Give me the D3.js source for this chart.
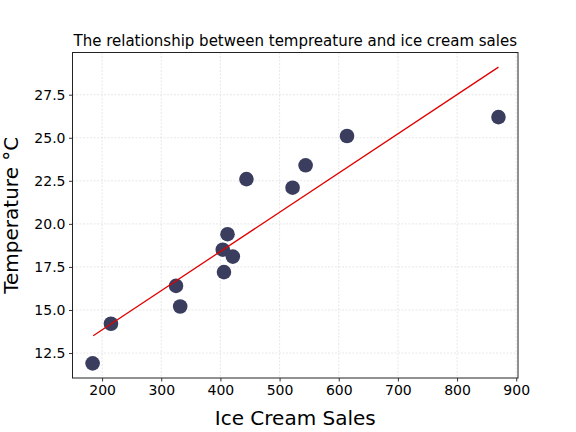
<!DOCTYPE html>
<html>
<head>
<meta charset="utf-8">
<script src="https://cdn.jsdelivr.net/npm/d3@7"></script>
<style>
  body { margin: 0; background: #fff; }
  text { font-family: 'DejaVu Sans', sans-serif; }
</style>
</head>
<body>
<svg id="chart" width="576" height="432"></svg>
<script>
// ice cream sales vs temperature
const sales = [184, 215, 325, 332, 406, 404, 412, 421, 444, 522, 544, 614, 870];
const temps = [11.9, 14.2, 16.4, 15.2, 17.2, 18.5, 19.4, 18.1, 22.6, 22.1, 23.4, 25.1, 26.2];

// fitted line end points
const fitX = [185, 870];
const fitY = [13.5, 29.1];

const xTicks = [200, 300, 400, 500, 600, 700, 800, 900];
const yTicks = [12.5, 15.0, 17.5, 20.0, 22.5, 25.0, 27.5];

const margin = { top: 52.5, right: 58, bottom: 54, left: 72.5 };
const width = 576 - margin.left - margin.right;
const height = 432 - margin.top - margin.bottom;

const svg = d3.select('#chart');
const g = svg
  .append('g')
    .attr('transform', `translate(${margin.left}, ${margin.top})`);

const x = d3.scaleLinear()
  .domain([150, 903])
  .range([0, width]);

const y = d3.scaleLinear()
  .domain([11.05, 29.95])
  .range([height, 0]);

// grid
g.append('g')
  .selectAll('line')
  .data(xTicks)
  .join('line')
    .attr('x1', d => x(d)).attr('x2', d => x(d))
    .attr('y1', 0).attr('y2', height)
    .attr('stroke', '#d6d6d6')
    .attr('stroke-width', 0.6)
    .attr('stroke-dasharray', '2,1.5');

g.append('g')
  .selectAll('line')
  .data(yTicks)
  .join('line')
    .attr('x1', 0).attr('x2', width)
    .attr('y1', d => y(d)).attr('y2', d => y(d))
    .attr('stroke', '#d6d6d6')
    .attr('stroke-width', 0.6)
    .attr('stroke-dasharray', '2,1.5');

// points
g.append('g')
  .selectAll('circle')
  .data(sales)
  .join('circle')
    .attr('cx', d => x(d))
    .attr('cy', (d, i) => y(temps[i]))
    .attr('r', 7.3)
    .attr('fill', '#3a3d5e');

// regression line
g.append('path')
  .datum(fitX.map((d, i) => [d, fitY[i]]))
    .attr('fill', 'none')
    .attr('stroke', '#e00000')
    .attr('stroke-width', 1.3)
    .attr('d', d3.line().x(d => x(d[0])).y(d => y(d[1])));

// axes
const xAxis = g.append('g')
  .attr('transform', `translate(0, ${height})`)
  .call(d3.axisBottom(x).tickValues(xTicks).tickSize(3.5).tickPadding(3.5).tickFormat(d3.format('d')));

const yAxis = g.append('g')
  .call(d3.axisLeft(y).tickValues(yTicks).tickSize(3.5).tickPadding(3.5).tickFormat(d3.format('.1f')));

[xAxis, yAxis].forEach(a => {
  a.select('.domain').remove();
  a.selectAll('text')
    .attr('font-family', 'DejaVu Sans')
    .attr('font-size', 14)
    .attr('fill', '#000');
  a.selectAll('line').attr('stroke', '#000').attr('stroke-width', 0.8);
});

// frame
g.append('rect')
  .attr('width', width)
  .attr('height', height)
  .attr('fill', 'none')
  .attr('stroke', '#222')
  .attr('stroke-width', 1);

// labels
svg.append('text')
  .attr('x', margin.left + width / 2)
  .attr('y', 46)
  .attr('text-anchor', 'middle')
  .attr('font-size', 15)
  .attr('fill', '#000')
  .text('The relationship between tempreature and ice cream sales');

svg.append('text')
  .attr('x', margin.left + width / 2)
  .attr('y', 425)
  .attr('text-anchor', 'middle')
  .attr('font-size', 20)
  .attr('fill', '#000')
  .text('Ice Cream Sales');

svg.append('text')
  .attr('transform', `translate(18, ${margin.top + height / 2}) rotate(-90)`)
  .attr('text-anchor', 'middle')
  .attr('font-size', 20)
  .attr('fill', '#000')
  .text('Temperature °C');
</script>
</body>
</html>
